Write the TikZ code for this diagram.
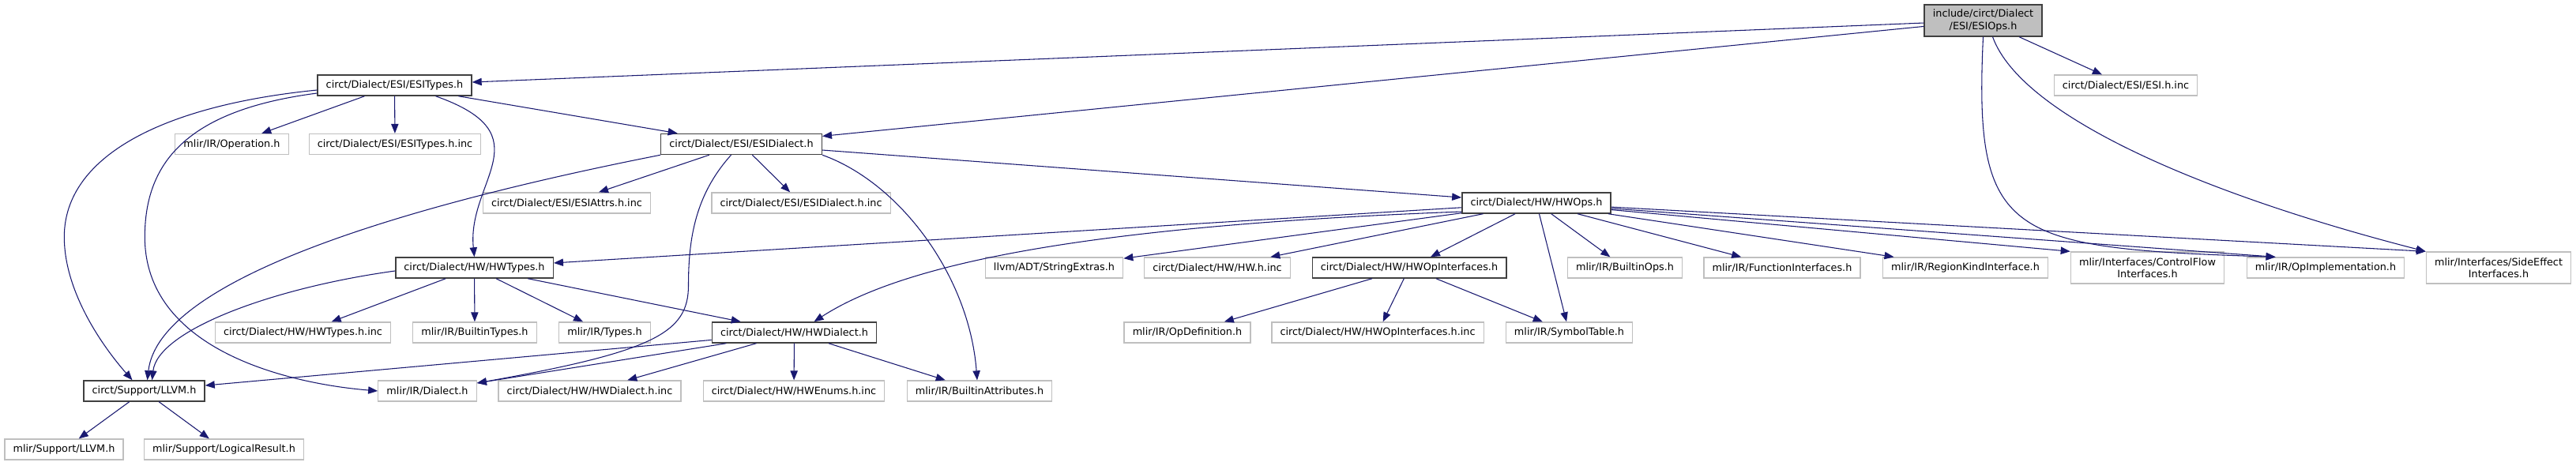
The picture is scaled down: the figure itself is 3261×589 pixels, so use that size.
\documentclass[tikz,border=0pt]{standalone}
\usepackage{fontspec}
\setmainfont{DejaVu Sans}
\usepackage{tikz}
\usetikzlibrary{positioning,arrows.meta,calc}
\definecolor{edgeBlue}{RGB}{25,25,112}
\definecolor{boxGrey}{RGB}{191,191,191}
\definecolor{boxDark}{RGB}{64,64,64}
\newcommand{\depfont}{\fontsize{9.6}{11.5}\selectfont}

\begin{document}
\begin{tikzpicture}[x=0.75pt, y=-0.75pt,
  filebox/.style={draw=boxDark, line width=1.1pt, fill=white, font=\depfont, inner xsep=8pt, inner ysep=3pt, minimum height=19.5pt},
  extbox/.style={filebox, draw=boxGrey, line width=1pt},
  twoline/.style={align=center, minimum height=30pt},
  rootbox/.style={filebox, twoline, fill=boxGrey},
  arrowstyle/.style={-{Triangle[length=9pt,width=7pt]}, draw=edgeBlue, line width=0.8pt},
]
\useasboundingbox (0,0) rectangle (3261,589);

% ===================================================================
% ROW 0 -- the file itself
% ===================================================================
\node[rootbox] (root) at (2510.5,26) {include/circt/Dialect\\/ESI/ESIOps.h};

% ===================================================================
% ROW 1
% ===================================================================
\node[filebox] (esitypes) at (499.5,108) {circt/Dialect/ESI/ESITypes.h};
\node[extbox] (esiinc) at (2691,108) {circt/Dialect/ESI/ESI.h.inc};

% ===================================================================
% ROW 2
% ===================================================================
\node[extbox] (operation) at (293.5,182.5) {mlir/IR/Operation.h};
\node[extbox] (esitypesinc) at (500,182.5) {circt/Dialect/ESI/ESITypes.h.inc};
\node[filebox] (esidialect) at (938.5,182.5) {circt/Dialect/ESI/ESIDialect.h};

% ===================================================================
% ROW 3
% ===================================================================
\node[extbox] (esiattrs) at (717.5,257) {circt/Dialect/ESI/ESIAttrs.h.inc};
\node[extbox] (esidialectinc) at (1014,257) {circt/Dialect/ESI/ESIDialect.h.inc};
\node[filebox] (hwops) at (1945,257) {circt/Dialect/HW/HWOps.h};

% ===================================================================
% ROW 4
% ===================================================================
\node[filebox] (hwtypes) at (600.5,339) {circt/Dialect/HW/HWTypes.h};
\node[extbox] (strext) at (1334.5,339) {llvm/ADT/StringExtras.h};
\node[extbox] (hwinc) at (1541,339) {circt/Dialect/HW/HW.h.inc};
\node[filebox] (hwopif) at (1784,339) {circt/Dialect/HW/HWOpInterfaces.h};
\node[extbox] (builtinops) at (2057,339) {mlir/IR/BuiltinOps.h};
\node[extbox] (funcif) at (2256,339) {mlir/IR/FunctionInterfaces.h};
\node[extbox] (regionkind) at (2488,339) {mlir/IR/RegionKindInterface.h};
\node[extbox, twoline] (cflow) at (2718.5,339) {mlir/Interfaces/ControlFlow\\Interfaces.h};
\node[extbox] (opimpl) at (2944,339) {mlir/IR/OpImplementation.h};
\node[extbox, twoline] (sideeff) at (3163,339) {mlir/Interfaces/SideEffect\\Interfaces.h};

% ===================================================================
% ROW 5
% ===================================================================
\node[extbox] (hwtypesinc) at (383.5,421) {circt/Dialect/HW/HWTypes.h.inc};
\node[extbox] (builtintypes) at (601,421) {mlir/IR/BuiltinTypes.h};
\node[extbox] (types) at (765.5,421) {mlir/IR/Types.h};
\node[filebox] (hwdialect) at (1005.5,421) {circt/Dialect/HW/HWDialect.h};
\node[extbox] (opdef) at (1503,421) {mlir/IR/OpDefinition.h};
\node[extbox] (hwopifinc) at (1744,421) {circt/Dialect/HW/HWOpInterfaces.h.inc};
\node[extbox] (symtab) at (1986.5,421) {mlir/IR/SymbolTable.h};

% ===================================================================
% ROW 6 and 7
% ===================================================================
\node[filebox] (llvm) at (182.5,495) {circt/Support/LLVM.h};
\node[extbox] (dialect) at (541,495) {mlir/IR/Dialect.h};
\node[extbox] (hwdialectinc) at (746.5,495) {circt/Dialect/HW/HWDialect.h.inc};
\node[extbox] (hwenums) at (1005,495) {circt/Dialect/HW/HWEnums.h.inc};
\node[extbox] (builtinattr) at (1240,495) {mlir/IR/BuiltinAttributes.h};
\node[extbox] (mlirllvm) at (81,569) {mlir/Support/LLVM.h};
\node[extbox] (logicres) at (283.5,569) {mlir/Support/LogicalResult.h};

% ===================================================================
% Straight includes
% ===================================================================
\foreach \a/\b in {root/esitypes, root/esidialect, root/esiinc,
    esitypes/operation, esitypes/esitypesinc, esitypes/esidialect,
    esidialect/esiattrs, esidialect/esidialectinc, esidialect/hwops,
    hwtypes/hwtypesinc, hwtypes/builtintypes, hwtypes/types, hwtypes/hwdialect,
    hwdialect/llvm, hwdialect/dialect, hwdialect/hwdialectinc, hwdialect/hwenums, hwdialect/builtinattr,
    hwopif/opdef, hwopif/hwopifinc, hwopif/symtab,
    llvm/mlirllvm, llvm/logicres}
  \draw[arrowstyle] (\a) -- (\b);

% HWOps fans out to its row
\foreach \t in {hwtypes,strext,hwinc,hwopif,symtab,builtinops,funcif,regionkind}
  \draw[arrowstyle] (hwops) -- (\t);
\draw[arrowstyle] (hwops) -- (cflow.north west);
\draw[arrowstyle] (hwops) -- ($(opimpl.north west)+(37,0)$);
\draw[arrowstyle] (hwops) -- (sideeff.north west);

% ===================================================================
% Curved includes
% ===================================================================
\draw[arrowstyle] (root.south) .. controls +(-12,254) and +(-340,-11) .. ($(opimpl.north west)+(37,0)$);
\draw[arrowstyle] ($(root.south)+(12,0)$) .. controls +(38,104) and +(-269,-69) .. (sideeff.north west);

\draw[arrowstyle] ($(esitypes.south)+(52,0)$) .. controls +(139,49) and +(-10,-96) .. (hwtypes.north);
\draw[arrowstyle] ($(esitypes.west)+(0,6)$) .. controls +(-200,20) and +(0,-100) .. ++(-320,186)
  .. controls +(0,70) and +(-37,-42) .. ($(llvm.north)+(-15,0)$);
\draw[arrowstyle] ($(esitypes.west)+(0,10)$) .. controls +(-170,22) and +(0,-90) .. ++(-218,182)
  .. controls +(0,140) and +(-120,-10) .. (dialect.west);

\draw[arrowstyle] (esidialect.south west) .. controls +(-355,70) and +(14,-122) .. ($(llvm.north)+(4,0)$);
\draw[arrowstyle] ($(esidialect.south)+(-13,0)$) .. controls +(-45,50) and +(0,-60) .. ++(-54,165)
  .. controls +(0,60) and +(225,-40) .. ($(dialect.east)+(0,-10)$);
\draw[arrowstyle] (esidialect.south east) .. controls +(98,35) and +(-10,-132) .. ($(builtinattr.north)+(-3,0)$);

\draw[arrowstyle] ($(hwops.west)+(0,11)$) .. controls +(-450,17) and +(120,-78) .. ($(hwdialect.north)+(25,0)$);
\draw[arrowstyle] ($(hwtypes.west)+(0,4)$) .. controls +(-159,22) and +(7,-62) .. ($(llvm.north)+(10,0)$);

\end{tikzpicture}
\end{document}
